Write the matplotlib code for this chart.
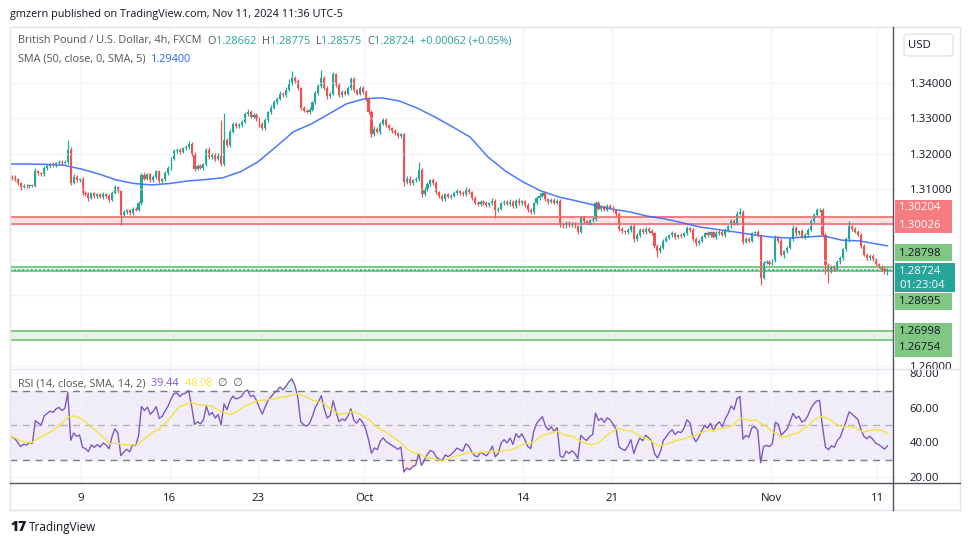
import numpy as np
import pandas as pd
import matplotlib
matplotlib.use("Agg")
import matplotlib.pyplot as plt
from matplotlib.patches import Rectangle, FancyBboxPatch

plt.rcParams['font.family'] = ['Open Sans', 'DejaVu Sans']

# GBPUSD 4h closes, in 1/10000 units, six candles per trading day (Sep 3 .. Nov 11)
closes = [
    13132, 13128, 13118, 13106, 13110, 13108,
    13112, 13110, 13150, 13145, 13142, 13160,
    13165, 13170, 13168, 13175, 13178, 13174,
    13178, 13212, 13118, 13135, 13125, 13128,
    13090, 13085, 13075, 13088, 13080, 13085,
    13078, 13085, 13080, 13070, 13090, 13105,
    13095, 13028, 13035, 13040, 13032, 13045,
    13042, 13060, 13140, 13130, 13142, 13125,
    13135, 13150, 13122, 13128, 13145, 13160,
    13185, 13208, 13212, 13205, 13215, 13218,
    13228, 13200, 13158, 13165, 13160, 13170,
    13210, 13190, 13198, 13185, 13195, 13170,
    13240, 13225, 13262, 13285, 13278, 13282,
    13290, 13312, 13318, 13305, 13310, 13300,
    13285, 13272, 13295, 13318, 13330, 13345,
    13355, 13370, 13365, 13380, 13400, 13415,
    13405, 13385, 13330, 13322, 13318, 13325,
    13345, 13372, 13390, 13415, 13385, 13362,
    13370, 13425, 13395, 13365, 13375, 13370,
    13385, 13412, 13380, 13370, 13385, 13375,
    13355, 13318, 13255, 13270, 13262, 13285,
    13295, 13280, 13272, 13265, 13258, 13250,
    13255, 13120, 13130, 13118, 13125, 13128,
    13155, 13085, 13100, 13115, 13125, 13118,
    13092, 13080, 13072, 13085, 13078, 13082,
    13088, 13095, 13090, 13085, 13098, 13092,
    13075, 13062, 13058, 13065, 13060, 13055,
    13060, 13068, 13040, 13045, 13060, 13065,
    13058, 13065, 13052, 13068, 13060, 13066,
    13055, 13040, 13035, 13060, 13075, 13082,
    13088, 13072, 13065, 13070, 13062, 13068,
    13000, 12995, 13005, 12998, 13002, 12995,
    12980, 13018, 13010, 13005, 13012, 13015,
    13060, 13045, 13050, 13042, 13052, 13048,
    13040, 13030, 12988, 12982, 12978, 12985,
    12995, 12958, 12972, 12985, 12978, 12988,
    12982, 12975, 12940, 12925, 12935, 12955,
    12962, 12970, 12975, 12965, 12970, 12968,
    12975, 12990, 12985, 12960, 12948, 12955,
    12965, 12975, 12970, 12978, 12965, 12975,
    12980, 12972, 12985, 12995, 13010, 13005,
    13030, 13035, 12952, 12960, 12955, 12975,
    12978, 12970, 12850, 12892, 12895, 12890,
    12898, 12962, 12955, 12915, 12925, 12935,
    12960, 12990, 12975, 12982, 12965, 12970,
    12985, 13010, 13028, 13040, 13042, 12970,
    12885, 12870, 12882, 12875, 12895, 12905,
    12930, 12958, 12995, 12988, 12980, 12972,
    12940, 12915, 12905, 12912, 12902, 12888,
    12882, 12875, 12866, 12872.4,
]
first_open = 13135

# wick lengths beyond the body, in 1/10000 units
wick_up = [
    5, 8, 4, 3, 6, 4,  4, 3, 10, 5, 4, 6,  5, 4, 6, 3, 5, 4,  4, 28, 6, 8, 5, 4,
    5, 4, 6, 5, 4, 3,  4, 6, 3, 5, 4, 6,  5, 4, 6, 5, 4, 5,  4, 6, 5, 8, 4, 5,
    6, 4, 5, 4, 6, 5,  5, 6, 4, 5, 4, 6,  8, 5, 4, 6, 5, 4,  6, 8, 5, 4, 6, 100,
    75, 5, 8, 6, 5, 4,  5, 6, 8, 5, 4, 5,  4, 6, 5, 4, 8, 6,  5, 6, 5, 8, 10, 20,
    6, 5, 4, 6, 5, 8,  5, 6, 8, 22, 5, 6,  5, 6, 4, 5, 6, 4,  5, 6, 5, 4, 6, 5,
    5, 4, 6, 8, 5, 4,  6, 5, 4, 5, 6, 4,  4, 5, 6, 8, 5, 6,  22, 5, 6, 5, 4, 6,
    5, 4, 6, 5, 4, 5,  6, 5, 4, 6, 8, 5,  4, 5, 6, 5, 4, 6,  5, 6, 4, 5, 4, 5,
    5, 6, 4, 5, 6, 4,  4, 5, 6, 5, 6, 8,  5, 6, 4, 5, 6, 5,  4, 5, 6, 4, 5, 4,
    4, 5, 6, 4, 5, 6,  8, 6, 5, 4, 6, 5,  5, 4, 6, 5, 4, 5,  5, 6, 4, 5, 6, 5,
    6, 5, 4, 5, 6, 5,  5, 4, 6, 5, 4, 5,  5, 6, 4, 5, 6, 4,  5, 4, 6, 5, 4, 6,
    5, 6, 4, 5, 6, 5,  8, 12, 5, 6, 5, 4,  5, 6, 4, 5, 6, 5,  5, 10, 5, 6, 4, 5,
    6, 8, 5, 4, 6, 5,  5, 6, 5, 7, 5, 4,  5, 6, 4, 5, 6, 5,  5, 6, 15, 5, 4, 5,
    5, 4, 6, 5, 4, 3,  4, 5, 6, 5.1,
]
wick_dn = [
    5, 4, 6, 8, 4, 5,  6, 4, 5, 4, 6, 4,  5, 4, 6, 5, 4, 5,  4, 6, 5, 4, 6, 5,
    6, 5, 8, 4, 5, 6,  4, 5, 6, 5, 4, 5,  5, 30, 5, 4, 6, 5,  5, 4, 6, 5, 4, 5,
    4, 6, 5, 4, 5, 4,  5, 4, 6, 5, 4, 5,  4, 5, 6, 5, 4, 5,  5, 4, 6, 5, 4, 5,
    4, 6, 5, 4, 5, 4,  5, 4, 6, 5, 4, 8,  10, 5, 4, 6, 5, 4,  5, 4, 6, 5, 4, 5,
    4, 5, 6, 5, 4, 5,  5, 4, 6, 5, 4, 6,  4, 5, 6, 5, 4, 5,  5, 4, 6, 5, 4, 5,
    5, 6, 8, 5, 4, 5,  4, 5, 6, 5, 4, 5,  5, 10, 4, 6, 5, 4,  4, 8, 5, 4, 6, 5,
    5, 4, 6, 5, 4, 5,  4, 5, 6, 5, 4, 5,  5, 4, 6, 5, 4, 5,  5, 4, 22, 5, 4, 5,
    4, 5, 6, 5, 4, 5,  5, 4, 6, 5, 4, 5,  4, 5, 6, 5, 4, 5,  8, 5, 4, 6, 5, 4,
    6, 4, 5, 4, 6, 5,  5, 4, 6, 5, 4, 5,  4, 5, 6, 5, 4, 5,  5, 8, 4, 6, 5, 4,
    5, 4, 6, 17, 5, 4,  5, 4, 6, 5, 4, 5,  4, 5, 6, 5, 8, 5,  5, 4, 6, 5, 4, 5,
    4, 5, 6, 5, 4, 5,  5, 4, 6, 5, 4, 5,  4, 5, 21, 5, 4, 5,  5, 4, 6, 5, 8, 5,
    4, 5, 6, 5, 4, 5,  5, 4, 6, 5, 4, 5,  25, 34, 6, 5, 4, 5,  4, 5, 6, 5, 4, 5,
    5, 4, 6, 5, 4, 5,  4, 5, 6, 8.6,
]

# SMA(50) read at the start of each trading day, plus the last value
sma_daily = [
    1.3171, 1.3171, 1.3170, 1.3168, 1.3157, 1.3143, 1.3126, 1.3116, 1.3112, 1.3116,
    1.3123, 1.3127, 1.3132, 1.3149, 1.3177, 1.3219, 1.3262, 1.3284, 1.3312, 1.3341,
    1.3355, 1.3358, 1.3349, 1.3329, 1.3304, 1.3276, 1.3247, 1.3191, 1.3151, 1.3120,
    1.3095, 1.3078, 1.3067, 1.3055, 1.3044, 1.3036, 1.3024, 1.3016, 1.3005, 1.2993,
    1.2986, 1.2979, 1.2971, 1.2965, 1.2962, 1.2965, 1.2968, 1.2956, 1.2954, 1.2945,
    1.2940,
]
# average 4h gain / loss before Sep 3 (RSI warm-up)
rsi_seed_gain, rsi_seed_loss = 0.0007, 0.0009

date_days = [4, 9, 14, 20, 29, 34, 43, 49]
date_labels = ['9', '16', '23', 'Oct', '14', '21', 'Nov', '11']
price_ticks = [1.26, 1.31, 1.32, 1.33, 1.34]
rsi_ticks = [20, 40, 60, 80]

red_zone = [1.30204, 1.30026]
green_zone = [1.28798, 1.28695]
green_zone2 = [1.26998, 1.26754]
last_price = 1.28724

UP, DN = '#26a69a', '#ef5350'
W, H = 970, 545
FS = 7.8


def fx(x):
    return x / W


def fy(y):
    return 1 - y / H


c = np.array(closes) / 10000
o = np.concatenate([[first_open / 10000], c[:-1]])
hi = np.maximum(o, c) + np.array(wick_up) / 10000
lo = np.minimum(o, c) - np.array(wick_dn) / 10000
n = len(c)
xs = np.arange(n) + 0.5
col = np.where(c >= o, UP, DN)

fig = plt.figure(figsize=(9.7, 5.45), dpi=100)
fig.patch.set_facecolor('white')

ax = fig.add_axes([fx(10), fy(368), fx(883), (368 - 27) / H])
ax2 = fig.add_axes([fx(10), fy(483), fx(883), (483 - 369) / H])
for a in (ax, ax2):
    for s in a.spines.values():
        s.set_visible(False)
    a.set_xlim(-0.1, 299.4)
    a.set_xticks([d * 6 for d in date_days])
    a.grid(axis='x', color='#f0f3fa', lw=1)
    a.tick_params(length=0)
    a.yaxis.tick_right()

ax.set_ylim(1.2595, 1.3558)
ax.set_yticks([1.26, 1.27, 1.28, 1.29, 1.30, 1.31, 1.32, 1.33, 1.34])
ax.set_yticklabels(['%.5f' % t if round(t, 2) in price_ticks else ''
                    for t in ax.get_yticks()], fontsize=FS + 0.4, color='#131722')
ax.tick_params(axis='y', pad=12)
ax.set_xticklabels([])
ax.grid(axis='y', color='#f0f3fa', lw=1)

# zones
ax.axhspan(red_zone[1], red_zone[0], color='#f77c80', alpha=0.22, lw=0)
for v in red_zone:
    ax.axhline(v, color='#f77c80', lw=1.4)
for z in (green_zone, green_zone2):
    ax.axhspan(z[1], z[0], color='#81c784', alpha=0.2, lw=0)
    for v in z:
        ax.axhline(v, color='#81c784', lw=1.4)
ax.axhline(last_price, color=UP, lw=1.2, ls=(0, (1, 1.5)))

# SMA
sma_x = [d * 6 for d in range(len(sma_daily) - 1)] + [xs[-1]]
ax.plot(sma_x, sma_daily, color='#2962ff', lw=1.1, alpha=0.85)

# candles
ax.vlines(xs, lo, hi, colors=col, lw=0.9)
body = np.maximum(np.abs(c - o), 0.00004)
ax.bar(xs, body, bottom=np.minimum(o, c), width=0.72, color=col, lw=0)

# RSI (Wilder smoothing) and its 14-period SMA
delta = np.diff(np.concatenate([[first_open / 10000], c]))
ag, al = rsi_seed_gain, rsi_seed_loss
rsi_vals = []
for dv in delta:
    ag = (ag * 13 + max(dv, 0)) / 14
    al = (al * 13 + max(-dv, 0)) / 14
    rsi_vals.append(100 - 100 / (1 + ag / al))
rsi = pd.Series(rsi_vals)
rsi_ma = rsi.rolling(14, min_periods=1).mean()

ax2.set_ylim(16.5, 82.6)
ax2.set_yticks(rsi_ticks)
ax2.set_yticklabels(['%.2f' % t for t in rsi_ticks], fontsize=FS + 0.4, color='#131722')
ax2.tick_params(axis='y', pad=12)
ax2.grid(axis='y', color='#f0f3fa', lw=1)
ax2.axhspan(30, 70, color='#7e57c2', alpha=0.1, lw=0)
ax2.axhline(70, color='#787b86', lw=1, ls=(0, (5, 4)))
ax2.axhline(30, color='#787b86', lw=1, ls=(0, (5, 4)))
ax2.axhline(50, color='#787b86', lw=1, ls=(0, (5, 4)), alpha=0.5)
ax2.fill_between(xs, 70, rsi, where=rsi > 70, color='#26a69a', alpha=0.15, lw=0)
ax2.fill_between(xs, 30, rsi, where=rsi < 30, color='#ef5350', alpha=0.15, lw=0)
ax2.plot(xs, rsi, color='#7e57c2', lw=1)
ax2.plot(xs, rsi_ma, color='#f5e23d', lw=1)
ax2.set_xticklabels(date_labels, fontsize=FS + 0.4, color='#131722')
ax2.tick_params(axis='x', pad=7)


# frame lines
def hline(y, x0, x1, color, lw=1):
    fig.add_artist(plt.Line2D([fx(x0), fx(x1)], [fy(y), fy(y)], color=color, lw=lw))


def vline(x, y0, y1, color, lw=1):
    fig.add_artist(plt.Line2D([fx(x), fx(x)], [fy(y0), fy(y1)], color=color, lw=lw))


hline(27, 10, 960, '#e0e3eb')
hline(510, 10, 960, '#e0e3eb')
hline(368.5, 10, 960, '#e0e3eb')
vline(10, 27, 510, '#e0e3eb')
vline(960, 27, 510, '#e0e3eb')
hline(483, 10, 960, '#50535e')
vline(893, 27, 510, '#50535e')


# price axis labels
def tag(y, txt, bg, fg, h=17, w=57):
    fig.add_artist(Rectangle((fx(895), fy(y + h / 2)), w / W, h / H, color=bg, lw=0))
    fig.text(fx(899), fy(y), txt, color=fg, fontsize=FS + 0.4, va='center', ha='left')


tag(208, '1.30204', '#f77c80', 'white')
tag(225, '1.30026', '#f77c80', 'white')
tag(253, '1.28798', '#81c784', '#131722')
fig.add_artist(Rectangle((fx(895), fy(292)), 60 / W, 29 / H, color=UP, lw=0))
fig.text(fx(899), fy(271), '1.28724', color='white', fontsize=FS + 0.4, va='center')
fig.text(fx(899), fy(285), '01:23:04', color='white', fontsize=FS + 0.4, va='center')
tag(301, '1.28695', '#81c784', '#131722')
tag(331, '1.26998', '#81c784', '#131722')
tag(348, '1.26754', '#81c784', '#131722')

fig.add_artist(FancyBboxPatch((fx(904), fy(56)), 49 / W, 22 / H,
                              boxstyle='round,pad=0,rounding_size=0.005',
                              fc='white', ec='#e0e3eb', lw=1))
fig.text(fx(908), fy(45), 'USD', fontsize=FS + 0.4, color='#131722', va='center')

# header texts
renderer = fig.canvas.get_renderer()


def seq(x, y, parts, size=FS):
    for txt, color in parts:
        t = fig.text(fx(x), fy(y), txt, color=color, fontsize=size, va='center')
        bb = t.get_window_extent(renderer)
        x += bb.width
    return x


fig.text(fx(10), fy(14), 'gmzern published on TradingView.com, Nov 11, 2024 11:36 UTC-5',
         fontsize=FS, color='#131722', va='center')
seq(18, 41, [('British Pound / U.S. Dollar, 4h, FXCM  ', '#555555'),
             ('O', '#555555'), ('1.28662  ', UP), ('H', '#555555'), ('1.28775  ', UP),
             ('L', '#555555'), ('1.28575  ', UP), ('C', '#555555'), ('1.28724  ', UP),
             ('+0.00062 (+0.05%)', UP)])
seq(18, 59, [('SMA (50, close, 0, SMA, 5)  ', '#555555'), ('1.29400', '#2962ff')])
seq(18, 384, [('RSI (14, close, SMA, 14, 2)  ', '#555555'), ('39.44  ', '#7e57c2'),
              ('48.08  ', '#f5e23d'), ('∅  ∅', '#555555')])

fig.text(fx(10), fy(527), '17', fontsize=10, fontweight='heavy', color='#131722', va='center')
fig.text(fx(29), fy(527), 'TradingView', fontsize=8.5, color='#131722', va='center')

fig.savefig('out.png', dpi=100)
